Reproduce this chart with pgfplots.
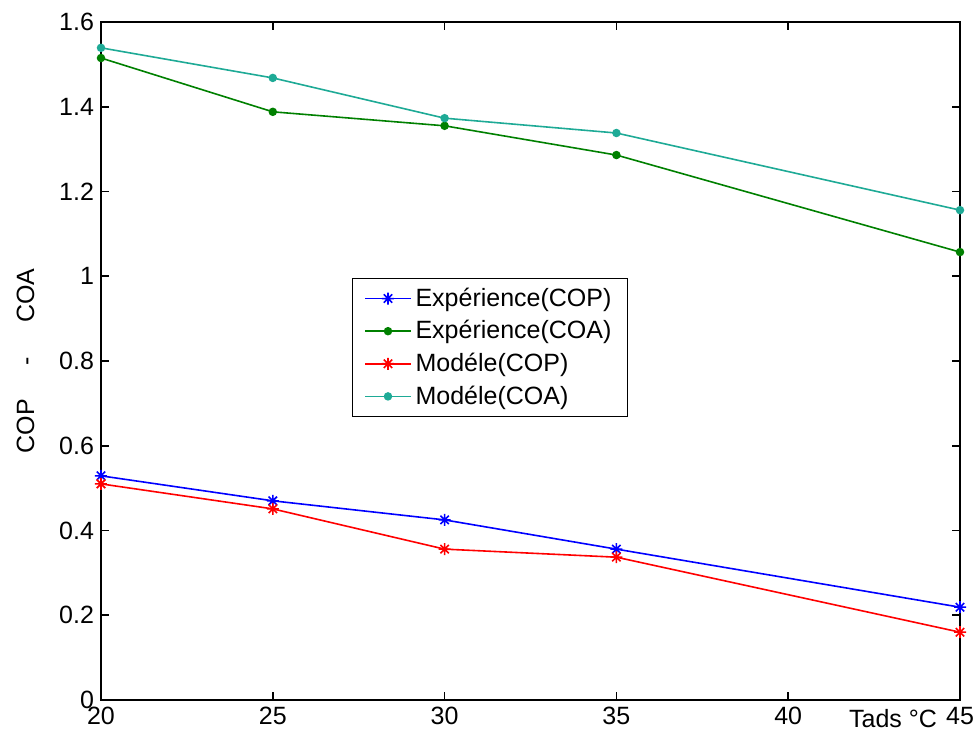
\documentclass[border=0pt]{standalone}
\usepackage{fontspec}
\setmainfont{Liberation Sans}
\usepackage{pgfplots}
\pgfplotsset{compat=1.18}

% MATLAB-style asterisk: a plus and a cross combined
\pgfdeclareplotmark{mstar}{%
  \pgfpathmoveto{\pgfqpoint{0pt}{\pgfplotmarksize}}%
  \pgfpathlineto{\pgfqpoint{0pt}{-\pgfplotmarksize}}%
  \pgfpathmoveto{\pgfqpoint{\pgfplotmarksize}{0pt}}%
  \pgfpathlineto{\pgfqpoint{-\pgfplotmarksize}{0pt}}%
  \pgfpathmoveto{\pgfqpoint{0.7\pgfplotmarksize}{0.7\pgfplotmarksize}}%
  \pgfpathlineto{\pgfqpoint{-0.7\pgfplotmarksize}{-0.7\pgfplotmarksize}}%
  \pgfpathmoveto{\pgfqpoint{0.7\pgfplotmarksize}{-0.7\pgfplotmarksize}}%
  \pgfpathlineto{\pgfqpoint{-0.7\pgfplotmarksize}{0.7\pgfplotmarksize}}%
  \pgfusepathqstroke}

\definecolor{cblue}{RGB}{0,0,255}
\definecolor{cgreen}{RGB}{0,128,0}
\definecolor{cred}{RGB}{255,0,0}
\definecolor{cteal}{RGB}{30,170,150}

\begin{document}
\begin{tikzpicture}
\useasboundingbox (-50.5pt,-16pt) rectangle (436.5pt,350pt);
\begin{axis}[
  scale only axis,
  width=429.5pt, height=339pt,
  at={(0,0)}, anchor=south west,
  xmin=20, xmax=45, ymin=0, ymax=1.6,
  xtick={20,25,30,35,40,45},
  ytick={0,0.2,0.4,0.6,0.8,1,1.2,1.4,1.6},
  tick align=inside,
  major tick length=4pt,
  axis line style={line width=0.8pt},
  every tick/.style={black, line width=0.8pt},
  font=\fontsize{12.5}{14}\selectfont,
  tick label style={font=\fontsize{12.5}{14}\selectfont},
  /pgf/number format/assume math mode=true,
  yticklabel style={/pgf/number format/fixed},
  xlabel={Tads °C},
  xlabel style={at={(rel axis cs:1,0)}, anchor=north east, xshift=-8pt, yshift=-1pt},
  ylabel={COP\hspace{17pt}-\hspace{17pt}COA},
  ylabel style={at={(axis description cs:-0.088,0.5)}, anchor=center},
  legend style={at={(0.292,0.622)}, anchor=north west, draw=black, line width=0.6pt,
    fill=white, font=\fontsize{12.5}{15.5}\selectfont, row sep=1.6pt,
    inner xsep=6pt, inner ysep=2.5pt,
    /tikz/every even column/.append style={column sep=10pt}},
  legend cell align=left,
  legend image code/.code={%
    \draw[mark repeat=2, mark phase=2, #1]
      plot coordinates {(0cm,0cm) (0.4cm,0cm) (0.8cm,0cm)};},
  every axis plot/.append style={line width=0.8pt},
]
\addplot[color=cblue, mark=mstar, mark size=3pt] coordinates {
  (20,0.529) (25,0.470) (30,0.425) (35,0.356) (45,0.219)};
\addlegendentry{Expérience(COP)}
\addplot[color=cgreen, mark=*, mark size=1.7pt] coordinates {
  (20,1.515) (25,1.388) (30,1.355) (35,1.286) (45,1.057)};
\addlegendentry{Expérience(COA)}
\addplot[color=cred, mark=mstar, mark size=3pt] coordinates {
  (20,0.510) (25,0.451) (30,0.356) (35,0.337) (45,0.160)};
\addlegendentry{Modéle(COP)}
\addplot[color=cteal, mark=*, mark size=1.7pt] coordinates {
  (20,1.539) (25,1.468) (30,1.373) (35,1.338) (45,1.156)};
\addlegendentry{Modéle(COA)}
\end{axis}
\end{tikzpicture}
\end{document}
